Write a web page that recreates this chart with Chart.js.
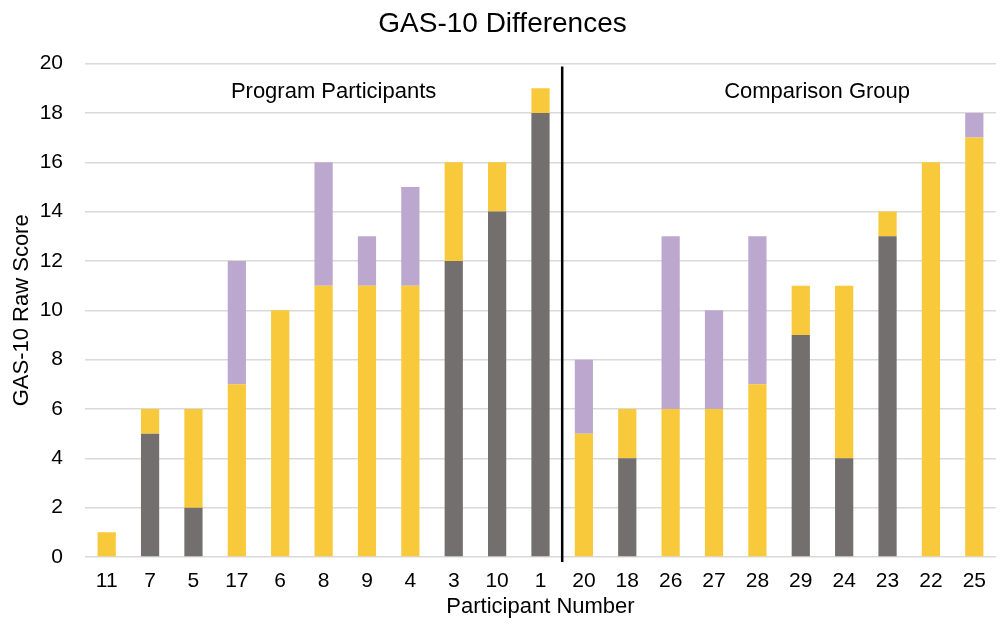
<!DOCTYPE html>
<html>
<head>
<meta charset="utf-8">
<script src="https://cdn.jsdelivr.net/npm/chart.js@4.4.0/dist/chart.umd.min.js"></script>
<style>
  html, body { margin: 0; padding: 0; background: #fff; }
  #wrap { width: 1000px; height: 624px; position: relative; }
</style>
</head>
<body>
<div id="wrap"><canvas id="chart"></canvas></div>
<script>
// participant numbers along the x axis
const participants = ['11', '7', '5', '17', '6', '8', '9', '4', '3', '10', '1',
                      '20', '18', '26', '27', '28', '29', '24', '23', '22', '25'];

// stacked segments (bottom -> top)
const graySeg   = [0, 5, 2, 0, 0, 0, 0, 0, 12, 14, 18, 0, 4, 0, 0, 0, 9, 4, 13, 0, 0];
const yellowSeg = [1, 1, 4, 7, 10, 11, 11, 11, 4, 2, 1, 5, 2, 6, 6, 7, 2, 7, 1, 16, 17];
const purpleSeg = [0, 0, 0, 5, 0, 5, 2, 4, 0, 0, 0, 3, 0, 7, 4, 6, 0, 0, 0, 0, 1];

const yTicks = [0, 2, 4, 6, 8, 10, 12, 14, 16, 18, 20];

// group labels and divider position (after this many participants)
const groupLabels = ['Program Participants', 'Comparison Group'];
const groupSplit = 11;

const FONT = "'Liberation Sans', Arial, Helvetica, sans-serif";

const groupPlugin = {
    id: 'groups',
    afterDatasetsDraw(chart) {
        const { ctx, scales: { x, y }, chartArea } = chart;
        const xs = (x.getPixelForValue(groupSplit - 1) + x.getPixelForValue(groupSplit)) / 2;
        ctx.save();
        ctx.strokeStyle = '#000';
        ctx.lineWidth = 2.5;
        ctx.beginPath();
        ctx.moveTo(xs, chartArea.top + 3);
        ctx.lineTo(xs, chartArea.bottom + 5);
        ctx.stroke();

        ctx.fillStyle = '#000';
        ctx.font = '22px ' + FONT;
        ctx.textAlign = 'center';
        ctx.textBaseline = 'alphabetic';
        // labels sit roughly over each group
        const leftMid = (x.getPixelForValue(0) + x.getPixelForValue(groupSplit - 1)) / 2 + 10;
        const rightMid = (x.getPixelForValue(groupSplit) + x.getPixelForValue(participants.length - 1)) / 2 + 38;
        ctx.fillText(groupLabels[0], leftMid, y.getPixelForValue(18.62));
        ctx.fillText(groupLabels[1], rightMid, y.getPixelForValue(18.62));
        ctx.restore();
    }
};

const barStyle = {
    barPercentage: 0.42,
    categoryPercentage: 1.0,
    borderWidth: 0
};

new Chart(document.getElementById('chart'), {
    type: 'bar',
    data: {
        labels: participants,
        datasets: [
            { label: 'Gray', data: graySeg, backgroundColor: '#736f6e', ...barStyle },
            { label: 'Yellow', data: yellowSeg, backgroundColor: '#f9c93c', ...barStyle },
            { label: 'Purple', data: purpleSeg, backgroundColor: '#bca8cf', ...barStyle }
        ]
    },
    options: {
        responsive: true,
        maintainAspectRatio: false,
        animation: false,
        layout: { padding: { top: 0, right: 4, bottom: 4, left: 9 } },
        plugins: {
            legend: { display: false },
            tooltip: { enabled: false },
            title: {
                display: true,
                text: 'GAS-10 Differences',
                color: '#000',
                font: { family: FONT, size: 28, weight: 'normal' },
                padding: { top: 7, bottom: 23 }
            }
        },
        scales: {
            x: {
                stacked: true,
                afterFit(axis) { axis.height = 63; },
                grid: { display: false },
                border: { display: false },
                ticks: {
                    color: '#000',
                    font: { family: FONT, size: 21 },
                    padding: 4,
                    maxRotation: 0,
                    autoSkip: false
                },
                title: {
                    display: true,
                    text: 'Participant Number',
                    color: '#000',
                    font: { family: FONT, size: 22 },
                    padding: { top: 1, bottom: 0 }
                }
            },
            y: {
                stacked: true,
                min: 0,
                max: 20,
                afterFit(axis) { axis.width = 76; },
                afterBuildTicks(axis) {
                    axis.ticks = yTicks.map(v => ({ value: v }));
                },
                grid: { color: '#d9d9d9', lineWidth: 1.5, drawTicks: false },
                border: { display: false },
                ticks: {
                    color: '#000',
                    font: { family: FONT, size: 21 },
                    padding: 22
                },
                title: {
                    display: true,
                    text: 'GAS-10 Raw Score',
                    color: '#000',
                    font: { family: FONT, size: 22 },
                    padding: { top: 0, bottom: 4 }
                }
            }
        }
    },
    plugins: [groupPlugin]
});
</script>
</body>
</html>
